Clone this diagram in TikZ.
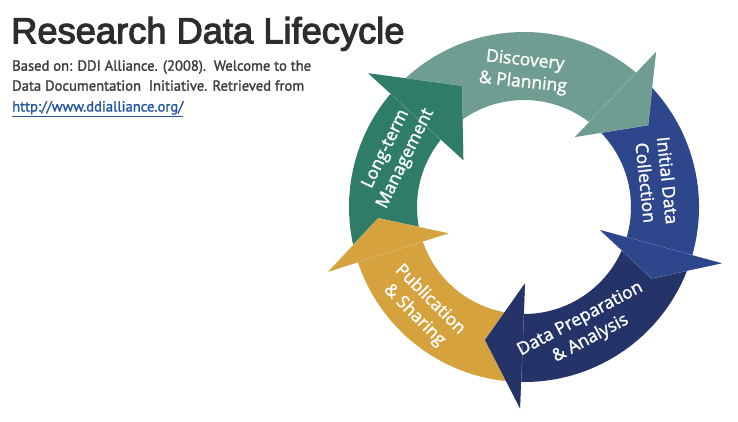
\documentclass[tikz,border=0pt]{standalone}
\usepackage{fontspec}
\setmainfont{Liberation Sans}
\newfontfamily\titlefont[FakeBold=3]{Liberation Sans}
\newfontfamily\arrowfont[FakeBold=1.5]{Open Sans}
\newfontfamily\subfont[FakeBold=1.4]{PT Sans}
\definecolor{cteal}{RGB}{111,157,145}
\definecolor{cgreen}{RGB}{47,125,105}
\definecolor{cblue}{RGB}{46,70,140}
\definecolor{cnavy}{RGB}{36,51,104}
\definecolor{cgold}{RGB}{213,162,62}
\definecolor{ctitle}{RGB}{45,45,45}
\definecolor{csub}{RGB}{60,60,60}
\definecolor{clink}{RGB}{35,85,160}
\newcommand\ringband[3]{\fill[#1] (#2:175pt) arc[start angle=#2, end angle=#3, radius=175pt] -- (#3:107pt) arc[start angle=#3, end angle=#2, radius=107pt] -- cycle;}
\tikzset{
  headshape/.style={draw=white, draw opacity=0.6, line width=0.5pt, line join=miter},
  armtext/.style={text=white, font=\arrowfont\fontsize{17.5}{22}\selectfont, align=center, inner sep=0pt},
  subtext/.style={text=csub, font=\subfont\fontsize{14.6}{17}\selectfont, anchor=base west, inner sep=0pt}
}
\begin{document}
\begin{tikzpicture}[x=1pt,y=1pt]
\useasboundingbox (-524,-214) rectangle (214,207);
\fill[white] (-524,-214) rectangle (214,207);
% bands
\ringband{cteal}{138}{49}
\ringband{cblue}{49}{-18}
\ringband{cnavy}{-18}{-92}
\ringband{cgold}{-92}{-163}
\ringband{cgreen}{197}{138}
% heads
\fill[cteal,headshape] (132,155) -- (124,82) -- (51,70) -- cycle;
\fill[cblue,headshape] (197.7,-56.3) -- (127.7,-71.3) -- (76,-23) -- cycle;
\fill[cnavy,headshape] (-4,-201.3) -- (-39,-133) -- (1,-76.3) -- cycle;
\fill[cgold,headshape] (-195.7,-64.7) -- (-145.7,-11.3) -- (-75.7,-26.3) -- cycle;
\fill[cgreen,headshape] (-155.7,133.7) -- (-62,121) -- (-60.7,47) -- cycle;
% re-cover band joins under heads
\fill[cteal] (132,155) -- (124,82) -- (51,70) -- cycle;
\fill[cblue] (197.7,-56.3) -- (127.7,-71.3) -- (76,-23) -- cycle;
\fill[cnavy] (-4,-201.3) -- (-39,-133) -- (1,-76.3) -- cycle;
\fill[cgold] (-195.7,-64.7) -- (-145.7,-11.3) -- (-75.7,-26.3) -- cycle;
\fill[cgreen] (-155.7,133.7) -- (-62,121) -- (-60.7,47) -- cycle;
% arm labels
\node[armtext, rotate=-6] (disc) at (0,135) {Discovery\\\& Planning};
\node[armtext, rotate=-84] (init) at (133,25.5) {Initial Data\\Collection};
\node[armtext, rotate=28] (prep) at (61.5,-122) {Data Preparation\\\& Analysis};
\node[armtext, rotate=-45] (pub) at (-101.8,-100.5) {Publication\\\& Sharing};
\node[armtext, rotate=64] (ltm) at (-128,53) {Long-term\\Management};
% title and source
\node[anchor=base west, inner sep=0pt, text=ctitle, font=\titlefont\fontsize{36.3}{40}\selectfont] (title) at (-513,163.7) {Research Data Lifecycle};
\node[subtext] (sub1) at (-512,136.3) {Based on: DDI Alliance. (2008).\ \ Welcome to the};
\node[subtext] (sub2) at (-512,116.3) {Data Documentation\ \ Initiative. Retrieved from};
\node[subtext, text=clink] (link) at (-512,95.5) {\underline{http://www.ddialliance.org/}};
\end{tikzpicture}
\end{document}
